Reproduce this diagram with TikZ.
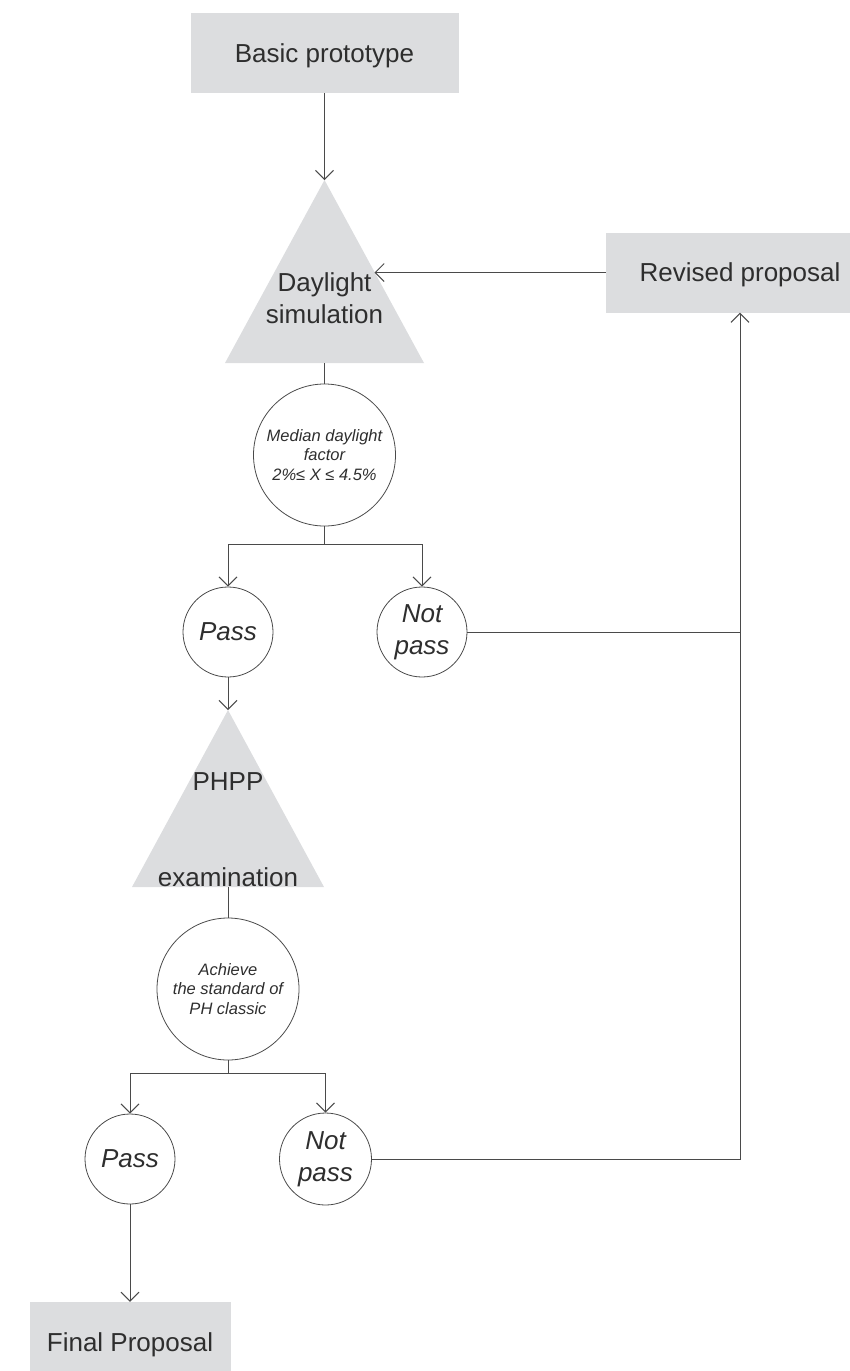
\documentclass[tikz,border=0pt]{standalone}
\usepackage{fontspec}
\setmainfont{Liberation Sans}
\usetikzlibrary{arrows.meta}
\definecolor{boxgray}{HTML}{DCDDDF}
\definecolor{txt}{HTML}{2E2E2E}
\definecolor{ln}{HTML}{4A4A4A}
\begin{document}
\begin{tikzpicture}[x=1pt,y=-1pt,
  every node/.style={text=txt},
  box/.style={fill=boxgray, inner sep=0pt, minimum width=268pt, minimum height=80pt, text depth=0pt, font=\fontsize{26}{32}\selectfont},
  tri/.style={fill=boxgray},
  big/.style={font=\fontsize{26}{32}\selectfont, align=center, inner sep=0pt},
  disc/.style={circle, draw=ln, line width=0.8pt, inner sep=0pt, align=center},
  small/.style={font=\itshape\fontsize{16.5}{19.5}\selectfont},
  mid/.style={font=\itshape\fontsize{26}{32}\selectfont},
  conn/.style={draw=ln, line width=1pt},
  arr/.style={conn, -{Straight Barb[length=9pt,width=18pt]}}]
\useasboundingbox (0,0) rectangle (850,1371);

% boxes
\node[box] (bp) at (324.5,53) {Basic prototype};
\node[box] (rev) at (740,272.5) {Revised proposal};
\node[box, minimum width=201pt] (fp) at (130,1342) {Final Proposal};

% triangle 1
\coordinate (t1top) at (324.5,180);
\coordinate (t1l) at (225,363);
\coordinate (t1r) at (424,363);
\coordinate (t1bot) at (324.5,363);
\coordinate (t1in) at (374.5,272.5);
\fill[tri] (t1top) -- (t1r) -- (t1l) -- cycle;
\node[big] (t1) at (324.5,298) {Daylight\\simulation};

% circle 1
\node[disc, minimum size=142pt, small] (c1) at (324.5,455) {Median daylight\\factor\\2\%≤ X ≤ 4.5\%};
\coordinate (j1) at (324.5,544);
\node[disc, minimum size=90pt, mid] (p1) at (228,632) {Pass};
\node[disc, minimum size=90pt, mid] (np1) at (422,632) {Not\\pass};

% triangle 2
\coordinate (t2top) at (228,710);
\coordinate (t2l) at (132,887);
\coordinate (t2r) at (324,887);
\coordinate (t2bot) at (228,887);
\fill[tri] (t2top) -- (t2r) -- (t2l) -- cycle;
\node[big] (t2a) at (228,782) {PHPP};
\node[big, anchor=base] (t2b) at (228,886) {examination};

% circle 2
\node[disc, minimum size=142pt, small] (c2) at (228,989) {Achieve\\the standard of\\PH classic};
\coordinate (j2) at (228,1073);
\node[disc, minimum size=90pt, mid] (p2) at (130,1159) {Pass};
\node[disc, minimum size=92pt, mid] (np2) at (325.5,1159) {Not\\pass};

% connectors
\draw[arr] (bp.south) -- (t1top);
\draw[arr] (rev.west) -- (t1in);
\draw[conn] (t1bot) -- (c1.north);
\draw[conn] (c1.south) -- (j1);
\draw[arr] (j1) -| (p1.north);
\draw[arr] (j1) -| (np1.north);
\draw[arr] (p1.south) -- (t2top);
\draw[conn] (t2bot) -- (c2.north);
\draw[conn] (c2.south) -- (j2);
\draw[arr] (j2) -| (p2.north);
\draw[arr] (j2) -| (np2.north);
\draw[arr] (p2.south) -- (fp.north);
\draw[conn] (np1.east) -- (np1.east -| rev.south);
\draw[arr] (np2.east) -- (np2.east -| rev.south) -- (rev.south);
\end{tikzpicture}
\end{document}
